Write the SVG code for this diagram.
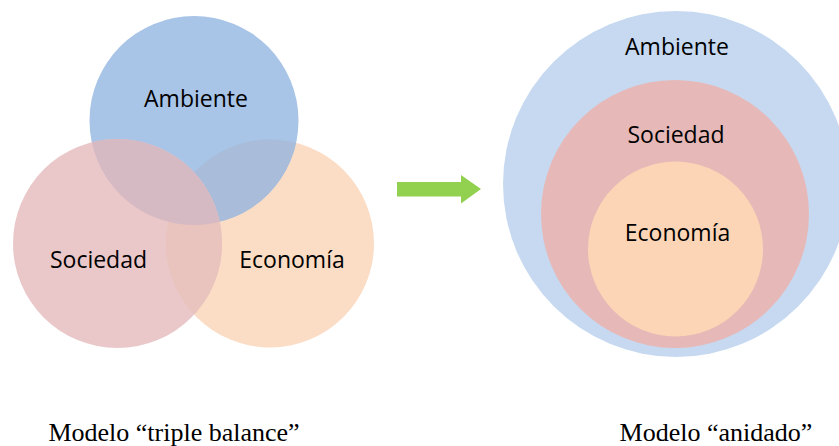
<svg xmlns="http://www.w3.org/2000/svg" width="839" height="446" viewBox="0 0 839 446">
<style>
.lbl{font-family:"Open Sans","Noto Sans",sans-serif;font-size:23px;fill:#000;text-anchor:middle}
.cap{font-family:"Liberation Serif","Times New Roman",serif;font-size:26px;fill:#000;text-anchor:middle}
</style>
<defs>
<clipPath id="cEco"><circle cx="270" cy="243.5" r="104"/></clipPath>
<clipPath id="cAmb"><circle cx="194" cy="120.5" r="104.5"/></clipPath>
</defs>
<rect width="839" height="446" fill="#fff"/>
<g id="triple">
<g id="economia-l"><circle cx="270" cy="243.5" r="104" fill="#fbdcc5"/></g>
<g id="ambiente-l"><circle cx="194" cy="120.5" r="104.5" fill="#a8c4e7"/>
<circle cx="194" cy="120.5" r="104.5" fill="#a9bcd9" clip-path="url(#cEco)"/></g>
<g id="sociedad-l"><circle cx="117.5" cy="243.5" r="104.5" fill="#eac8c9"/>
<circle cx="117.5" cy="243.5" r="104.5" fill="#e9c3bd" clip-path="url(#cEco)"/>
<circle cx="117.5" cy="243.5" r="104.5" fill="#d5b9c3" clip-path="url(#cAmb)"/></g>
<text class="lbl" x="196" y="107">Ambiente</text>
<text class="lbl" x="98.5" y="268">Sociedad</text>
<text class="lbl" x="292" y="268">Economía</text>
</g>
<g id="connectors">
<polygon points="397,182 461,182 461,175 481,189 461,203.5 461,196.5 397,196.5" fill="#92d050"/>
</g>
<g id="anidado">
<g id="ambiente-r"><circle cx="676" cy="184" r="173" fill="#c6d9f1"/><text class="lbl" x="677" y="55">Ambiente</text></g>
<g id="sociedad-r"><circle cx="675" cy="214" r="134" fill="#e6b9b8"/><text class="lbl" x="676" y="143">Sociedad</text></g>
<g id="economia-r"><circle cx="675.5" cy="249" r="87.5" fill="#fbd5b5"/><text class="lbl" x="677.5" y="241">Economía</text></g>
</g>
<text class="cap" x="174" y="441">Modelo “triple balance”</text>
<text class="cap" x="716" y="441">Modelo “anidado”</text>
</svg>
